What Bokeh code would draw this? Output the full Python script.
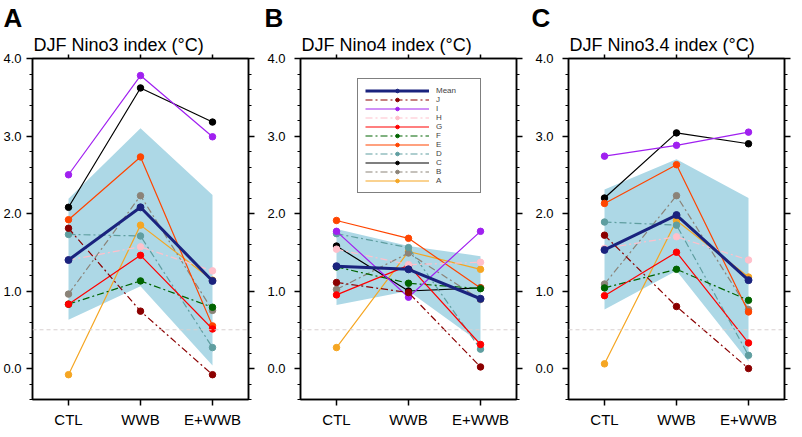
from bokeh.plotting import figure
from bokeh.layouts import row
from bokeh.models import (LinearAxis, FixedTicker, PrintfTickFormatter, CustomJSTickFormatter,
                          Span, Legend, LegendItem, Title)
from bokeh.embed import file_html
from bokeh.resources import INLINE

# ---------------- data ----------------
categories = ["CTL", "WWB", "E+WWB"]
x_pos = [0, 1, 2]
series_names = ["A", "B", "C", "D", "E", "F", "G", "H", "I", "J"]
y_ticks = [0, 1, 2, 3, 4]
y_minor = [-0.4, -0.2, 0.2, 0.4, 0.6, 0.8, 1.2, 1.4, 1.6, 1.8, 2.2, 2.4, 2.6, 2.8,
           3.2, 3.4, 3.6, 3.8]

nino3 = {
    "A": [-0.08, 1.85, 1.14],
    "B": [0.96, 2.23, 0.75],
    "C": [2.08, 3.62, 3.18],
    "D": [1.73, 1.71, 0.27],
    "E": [1.92, 2.73, 0.55],
    "F": [0.83, 1.13, 0.79],
    "G": [0.83, 1.46, 0.51],
    "H": [1.40, 1.57, 1.26],
    "I": [2.50, 3.78, 2.99],
    "J": [1.81, 0.74, -0.08],
}
nino3_mean = [1.40, 2.08, 1.13]
nino3_lower = [0.63, 1.06, 0.04]
nino3_upper = [2.19, 3.10, 2.24]

nino4 = {
    "A": [0.27, 1.51, 1.28],
    "B": [1.02, 1.49, 0.89],
    "C": [1.58, 1.00, 1.04],
    "D": [1.74, 1.56, 0.25],
    "E": [1.91, 1.68, 1.04],
    "F": [1.31, 1.10, 1.03],
    "G": [0.95, 1.33, 0.31],
    "H": [1.54, 1.34, 1.37],
    "I": [1.77, 0.92, 1.77],
    "J": [1.11, 0.98, 0.02],
}
nino4_mean = [1.32, 1.28, 0.90]
nino4_lower = [0.82, 1.00, 0.33]
nino4_upper = [1.80, 1.58, 1.45]

nino34 = {
    "A": [0.06, 1.91, 1.18],
    "B": [1.09, 2.23, 0.76],
    "C": [2.20, 3.04, 2.90],
    "D": [1.89, 1.85, 0.17],
    "E": [2.13, 2.63, 0.73],
    "F": [1.04, 1.28, 0.88],
    "G": [0.94, 1.50, 0.33],
    "H": [1.55, 1.70, 1.40],
    "I": [2.74, 2.88, 3.05],
    "J": [1.72, 0.80, 0.00],
}
nino34_mean = [1.53, 1.98, 1.14]
nino34_lower = [0.76, 1.26, 0.09]
nino34_upper = [2.31, 2.70, 2.20]

# ---------------- styles ----------------
colors = {
    "A": "#F5A623", "B": "#8B8378", "C": "#000000", "D": "#5F9EA0", "E": "#FF4500",
    "F": "#006400", "G": "#FF0000", "H": "#FFC0CB", "I": "#A020F0", "J": "#8B0000",
}
dashed = {"B", "D", "F", "H", "J"}
MEAN_COLOR = "#1a237e"
FONT = "Liberation Sans"
FW = 216
FH = 341


def make_panel(letter, title, data, mean, lower, upper, bl, br, standoff, letter_dx, legend=False):
    p = figure(frame_width=FW, frame_height=FH, x_range=(-0.5, 2.5), y_range=(-0.4, 4.0),
               output_backend="svg", toolbar_location=None,
               x_axis_location=None, y_axis_location=None,
               min_border_left=bl, min_border_right=br, min_border_top=40, min_border_bottom=29,
               background_fill_color="white", border_fill_color="white")
    p.grid.visible = False
    p.outline_line_color = "black"
    p.outline_line_width = 1.5

    yt = FixedTicker(ticks=y_ticks, minor_ticks=y_minor)
    left = LinearAxis(ticker=yt, formatter=PrintfTickFormatter(format="%.1f"))
    right = LinearAxis(ticker=yt, formatter=CustomJSTickFormatter(code="return ''"))
    xt = FixedTicker(ticks=x_pos)
    bottom = LinearAxis(ticker=xt, major_label_overrides={i: c for i, c in zip(x_pos, categories)})
    top = LinearAxis(ticker=xt, formatter=CustomJSTickFormatter(code="return ''"))
    for ax in (left, right, bottom, top):
        ax.axis_line_color = "black"
        ax.axis_line_width = 1.5
        ax.major_tick_line_color = "black"
        ax.major_tick_line_width = 1.5
        ax.minor_tick_line_color = "black"
        ax.minor_tick_line_width = 1.2
        ax.major_tick_in = 0
        ax.minor_tick_in = 0
        ax.major_label_text_font = FONT
        ax.major_label_text_color = "black"
    for ax in (left, right):
        ax.major_tick_out = 6
        ax.minor_tick_out = 3
    for ax in (top, bottom):
        ax.minor_tick_out = 0
    bottom.major_tick_out = 6
    top.major_tick_out = 4
    left.major_label_text_font_size = "13px"
    left.major_label_standoff = standoff
    bottom.major_label_text_font_size = "15px"
    bottom.major_label_standoff = 5
    right.major_label_standoff = 0
    top.major_label_standoff = 0
    right.major_label_text_font_size = "1px"
    top.major_label_text_font_size = "1px"
    p.add_layout(left, "left")
    p.add_layout(right, "right")
    p.add_layout(bottom, "below")
    p.add_layout(top, "above")

    p.varea(x=x_pos, y1=lower, y2=upper, fill_color="#ADD8E6", fill_alpha=1.0)
    p.add_layout(Span(location=0.5, dimension="width", line_color="#d8d0d0",
                      line_dash="4 3", line_width=1))

    items = {}
    for name in series_names:
        c = colors[name]
        dash = "7 3 2 3" if name in dashed else "solid"
        lr = p.line(x_pos, data[name], line_color=c, line_width=1.2, line_dash=dash)
        sr = p.scatter(x_pos, data[name], size=6.5, fill_color=c, line_color=c)
        items[name] = [lr, sr]
    lm = p.line(x_pos, mean, line_color=MEAN_COLOR, line_width=3)
    sm = p.scatter(x_pos, mean, size=7, fill_color=MEAN_COLOR, line_color=MEAN_COLOR)
    items["Mean"] = [lm, sm]

    p.add_layout(Title(text=title, align="left", text_font=FONT, text_font_size="18px",
                       text_font_style="normal", text_color="black", offset=1, standoff=0), "above")
    p.add_layout(Title(text=letter, align="left", text_font=FONT, text_font_size="26px",
                       text_font_style="bold", text_color="black", offset=letter_dx,
                       standoff=0), "above")

    if legend:
        order = ["Mean", "J", "I", "H", "G", "F", "E", "D", "C", "B", "A"]
        lg = Legend(items=[LegendItem(label=n, renderers=items[n]) for n in order],
                    location=(57, 206), margin=0, padding=7, spacing=0,
                    label_height=9, glyph_height=9, glyph_width=64, label_width=37,
                    label_standoff=7, label_text_font=FONT, label_text_font_size="8px",
                    border_line_color="black", border_line_width=1.2,
                    background_fill_color="white", background_fill_alpha=1.0)
        p.add_layout(lg)
    return p


pA = make_panel("A", "DJF Nino3 index (\u00b0C)", nino3, nino3_mean, nino3_lower, nino3_upper,
                30, 16, 5, -29)
pB = make_panel("B", "DJF Nino4 index (\u00b0C)", nino4, nino4_mean, nino4_lower, nino4_upper,
                34, 16, 9, -36, legend=True)
pC = make_panel("C", "DJF Nino3.4 index (\u00b0C)", nino34, nino34_mean, nino34_lower, nino34_upper,
                34, 8, 9, -37)

layout = row(pA, pB, pC)
open("out.html", "w").write(file_html(layout, INLINE))
